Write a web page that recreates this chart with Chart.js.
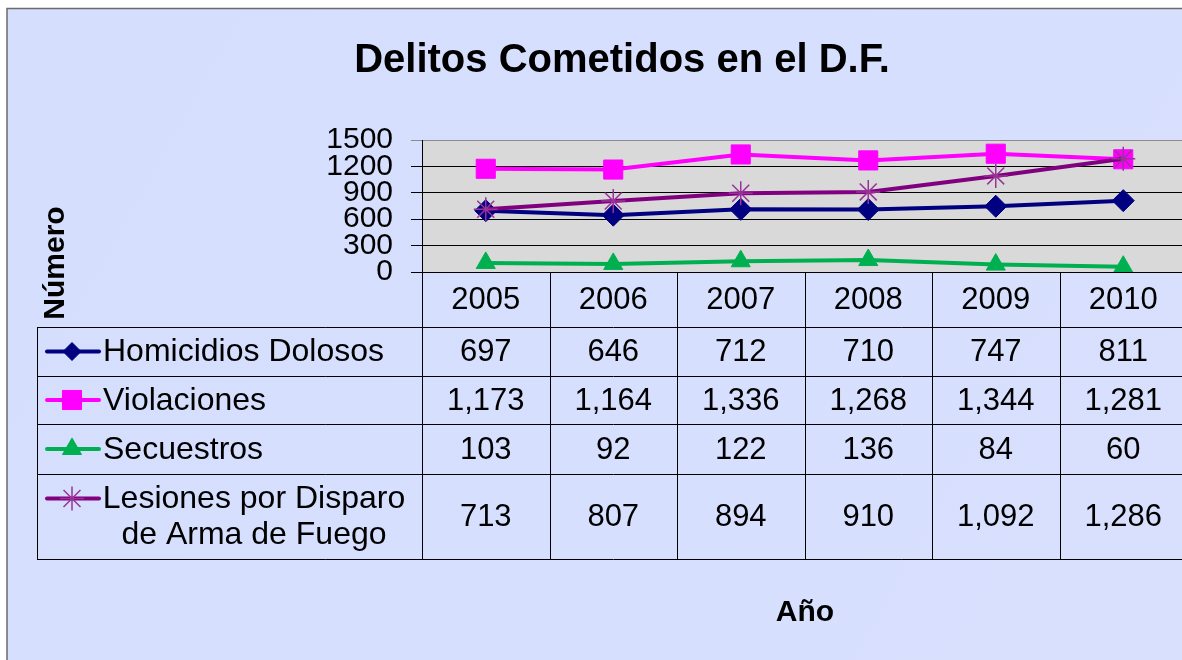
<!DOCTYPE html>
<html>
<head>
<meta charset="utf-8">
<script src="https://cdn.jsdelivr.net/npm/chart.js@4.4.1/dist/chart.umd.min.js"></script>
<style>
  html, body { margin: 0; padding: 0; background: #fff; overflow: hidden; }
  canvas { display: block; }
</style>
</head>
<body>
<canvas id="chart" width="1190" height="660"></canvas>
<script>
const years = ['2005', '2006', '2007', '2008', '2009', '2010'];
const homicidios = [697, 646, 712, 710, 747, 811];
const violaciones = [1173, 1164, 1336, 1268, 1344, 1281];
const secuestros = [103, 92, 122, 136, 84, 60];
const lesiones = [713, 807, 894, 910, 1092, 1286];
const seriesNames = ['Homicidios Dolosos', 'Violaciones', 'Secuestros', ['Lesiones por Disparo', 'de Arma de Fuego']];

const FONT = "'Liberation Sans', Arial, sans-serif";

// row edges of the data table (header row starts at the plot bottom)
const rowEdges = [327, 376, 424, 474, 559];
const tableLeft = 37;

function drawMarker(ctx, ds, x, y, radius) {
    ctx.save();
    ctx.fillStyle = ds.pointBackgroundColor;
    ctx.strokeStyle = ds.pointBorderColor;
    ctx.lineWidth = ds.pointBorderWidth;
    Chart.helpers.drawPoint(ctx, {
        pointStyle: ds.pointStyle,
        radius: radius,
        rotation: 0,
        borderWidth: ds.pointBorderWidth
    }, x, y);
    ctx.restore();
}

const framePlugin = {
    id: 'frame',
    beforeDraw(chart) {
        const ctx = chart.ctx;
        const area = chart.chartArea;
        ctx.save();
        ctx.fillStyle = '#fff';
        ctx.fillRect(0, 0, chart.width, chart.height);
        const grad = ctx.createLinearGradient(0, 0, chart.width, chart.height);
        grad.addColorStop(0, '#D5DEFD');
        grad.addColorStop(1, '#D8E0FE');
        ctx.fillStyle = grad;
        ctx.fillRect(7, 8, chart.width, chart.height);
        ctx.strokeStyle = '#6b6b6b';
        ctx.lineWidth = 1.5;
        ctx.beginPath();
        ctx.moveTo(7, chart.height + 2);
        ctx.lineTo(7, 8.5);
        ctx.lineTo(chart.width + 2, 8.5);
        ctx.stroke();
        // plot area fill
        ctx.fillStyle = '#D9D9D9';
        ctx.fillRect(area.left, area.top, area.right - area.left, area.bottom - area.top);
        ctx.restore();
    },
    afterDraw(chart) {
        const ctx = chart.ctx;
        const area = chart.chartArea;
        const xScale = chart.scales.x;
        const colW = (area.right - area.left) / years.length;
        ctx.save();

        // title
        ctx.fillStyle = '#000';
        ctx.font = 'bold 40px ' + FONT;
        ctx.textAlign = 'center';
        ctx.textBaseline = 'middle';
        ctx.fillText('Delitos Cometidos en el D.F.', 622, 61);

        // axis titles
        ctx.font = 'bold 30px ' + FONT;
        ctx.fillText('Año', 805, 613);
        ctx.save();
        ctx.translate(56, 263);
        ctx.rotate(-Math.PI / 2);
        ctx.fillText('Número', 0, 0);
        ctx.restore();

        // table grid
        ctx.strokeStyle = '#000';
        ctx.lineWidth = 1;
        ctx.beginPath();
        rowEdges.forEach(y => {
            ctx.moveTo(tableLeft, y + 0.5);
            ctx.lineTo(chart.width, y + 0.5);
        });
        ctx.moveTo(tableLeft + 0.5, rowEdges[0]);
        ctx.lineTo(tableLeft + 0.5, rowEdges[rowEdges.length - 1]);
        for (let i = 0; i <= years.length; i++) {
            const x = Math.round(area.left + i * colW) + 0.5;
            ctx.moveTo(x, area.bottom);
            ctx.lineTo(x, rowEdges[rowEdges.length - 1]);
        }
        ctx.stroke();

        // header years
        ctx.font = '31px ' + FONT;
        ctx.textAlign = 'center';
        years.forEach((yr, i) => {
            ctx.fillText(yr, xScale.getPixelForValue(i), (area.bottom + rowEdges[0]) / 2 + 1);
        });

        // rows
        chart.data.datasets.forEach((ds, r) => {
            const top = rowEdges[r];
            const bottom = rowEdges[r + 1];
            const mid = (top + bottom) / 2 + 1;
            ctx.font = '31px ' + FONT;
            ctx.textAlign = 'center';
            ds.data.forEach((v, i) => {
                ctx.fillText(v.toLocaleString('en-US'), xScale.getPixelForValue(i), mid);
            });

            const name = seriesNames[r];
            const labelY = Array.isArray(name) ? mid - 18 : mid;
            // legend key
            ctx.save();
            ctx.strokeStyle = ds.borderColor;
            ctx.lineWidth = 4;
            ctx.lineCap = 'round';
            ctx.beginPath();
            ctx.moveTo(47, labelY - 1);
            ctx.lineTo(99, labelY - 1);
            ctx.stroke();
            ctx.restore();
            drawMarker(ctx, ds, 72, labelY - 1, ds.legendRadius);

            ctx.fillStyle = '#000';
            ctx.font = '32px ' + FONT;
            if (Array.isArray(name)) {
                ctx.textAlign = 'center';
                ctx.fillText(name[0], 254, mid - 18);
                ctx.fillText(name[1], 254, mid + 18);
            } else {
                ctx.textAlign = 'left';
                ctx.fillText(name, 103, mid);
            }
        });
        ctx.restore();
    }
};

new Chart(document.getElementById('chart'), {
    type: 'line',
    data: {
        labels: years,
        datasets: [
            {
                label: 'Homicidios Dolosos',
                data: homicidios,
                borderColor: '#000080',
                pointBackgroundColor: '#000080',
                pointBorderColor: '#000080',
                pointBorderWidth: 1,
                pointStyle: 'rectRot',
                pointRadius: 11,
                legendRadius: 9,
                order: 3
            },
            {
                label: 'Violaciones',
                data: violaciones,
                borderColor: '#FF00FF',
                pointBackgroundColor: '#FF00FF',
                pointBorderColor: '#FF00FF',
                pointBorderWidth: 1,
                pointStyle: 'rect',
                pointRadius: 13.5,
                legendRadius: 13.5,
                order: 2
            },
            {
                label: 'Secuestros',
                data: secuestros,
                borderColor: '#00B050',
                pointBackgroundColor: '#00B050',
                pointBorderColor: '#00B050',
                pointBorderWidth: 1,
                pointStyle: 'triangle',
                pointRadius: 11,
                legendRadius: 11,
                order: 1
            },
            {
                label: 'Lesiones por Disparo de Arma de Fuego',
                data: lesiones,
                borderColor: '#800080',
                pointBackgroundColor: '#993399',
                pointBorderColor: '#993399',
                pointBorderWidth: 1.5,
                pointStyle: 'star',
                pointRadius: 12,
                legendRadius: 12,
                order: 0
            }
        ]
    },
    options: {
        responsive: false,
        animation: false,
        devicePixelRatio: 1,
        elements: {
            line: { borderWidth: 4, tension: 0 }
        },
        layout: {
            autoPadding: false,
            padding: { left: 0, top: 140, right: 3, bottom: 388 }
        },
        scales: {
            x: {
                display: false,
                offset: true
            },
            y: {
                min: 0,
                max: 1500,
                afterFit: s => { s.width = 422; },
                ticks: {
                    stepSize: 300,
                    autoSkip: false,
                    padding: 18,
                    color: '#000',
                    font: { family: FONT, size: 30 },
                    callback: v => String(v)
                },
                grid: {
                    color: c => (c.tick && c.tick.value === 1500 ? '#8c8c8c' : '#000'),
                    lineWidth: 1,
                    tickLength: 11
                },
                border: { color: '#000', width: 1 }
            }
        },
        plugins: {
            legend: { display: false },
            title: { display: false },
            tooltip: { enabled: false }
        }
    },
    plugins: [framePlugin]
});
</script>
</body>
</html>
